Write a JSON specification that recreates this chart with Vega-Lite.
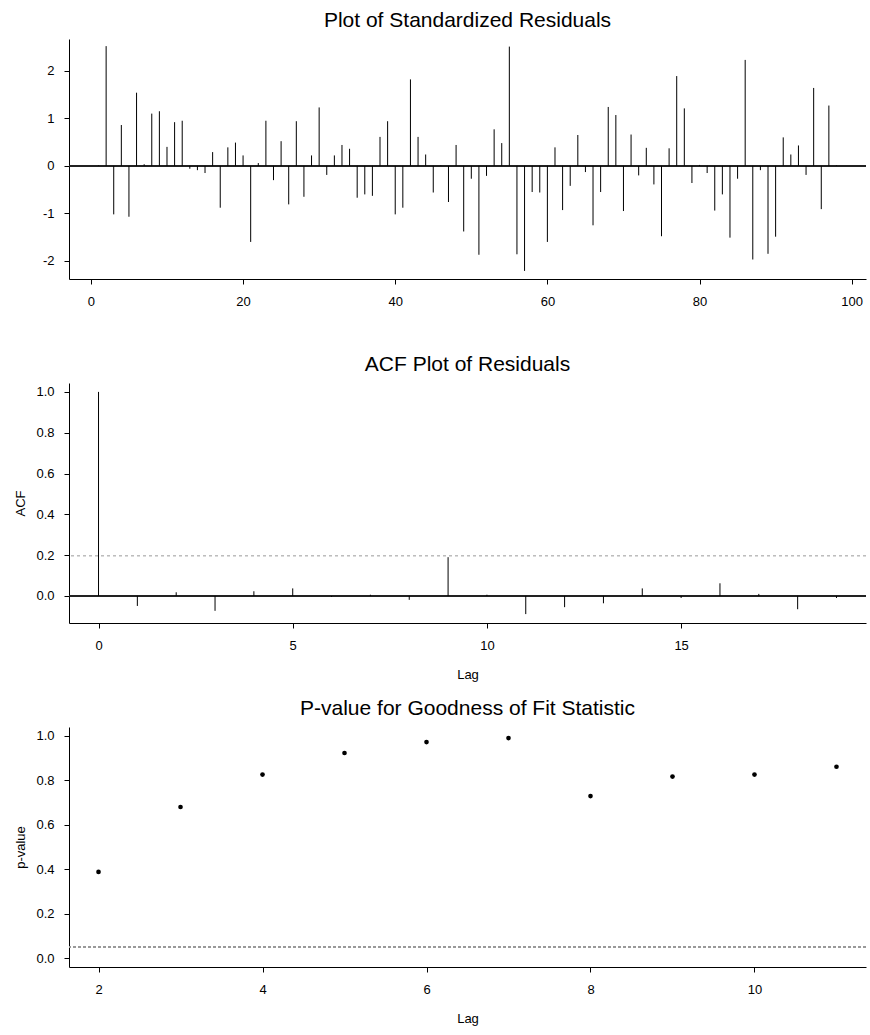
{
  "$schema": "https://vega.github.io/schema/vega-lite/v6.json",
  "background": "white",
  "padding": {"left": 14, "top": 10, "right": 2, "bottom": 2},
  "spacing": 104,
  "bounds": "flush",
  "config": {
    "view": {"stroke": null},
    "font": "Liberation Sans",
    "title": {"fontSize": 21, "fontWeight": "normal", "font": "Liberation Sans", "color": "black", "offset": 8, "anchor": "middle"},
    "axis": {"grid": false, "domainColor": "black", "tickColor": "black", "labelColor": "black", "titleColor": "black", "labelFont": "Liberation Sans", "titleFont": "Liberation Sans", "labelFontSize": 13, "titleFontSize": 13, "titleFontWeight": "normal", "tickSize": 5, "domainWidth": 1, "tickWidth": 1}
  },
  "datasets": {
    "resid": [
      {"t": 1, "r": 0.01}, {"t": 2, "r": 2.52}, {"t": 3, "r": -1.02}, {"t": 4, "r": 0.86}, {"t": 5, "r": -1.07},
      {"t": 6, "r": 1.54}, {"t": 7, "r": 0.035}, {"t": 8, "r": 1.10}, {"t": 9, "r": 1.15}, {"t": 10, "r": 0.40},
      {"t": 11, "r": 0.92}, {"t": 12, "r": 0.95}, {"t": 13, "r": -0.06}, {"t": 14, "r": -0.09}, {"t": 15, "r": -0.15},
      {"t": 16, "r": 0.29}, {"t": 17, "r": -0.88}, {"t": 18, "r": 0.39}, {"t": 19, "r": 0.49}, {"t": 20, "r": 0.22},
      {"t": 21, "r": -1.60}, {"t": 22, "r": 0.06}, {"t": 23, "r": 0.95}, {"t": 24, "r": -0.30}, {"t": 25, "r": 0.52},
      {"t": 26, "r": -0.81}, {"t": 27, "r": 0.94}, {"t": 28, "r": -0.65}, {"t": 29, "r": 0.22}, {"t": 30, "r": 1.23},
      {"t": 31, "r": -0.19}, {"t": 32, "r": 0.22}, {"t": 33, "r": 0.44}, {"t": 34, "r": 0.36}, {"t": 35, "r": -0.67},
      {"t": 36, "r": -0.60}, {"t": 37, "r": -0.63}, {"t": 38, "r": 0.61}, {"t": 39, "r": 0.94}, {"t": 40, "r": -1.02},
      {"t": 41, "r": -0.88}, {"t": 42, "r": 1.82}, {"t": 43, "r": 0.61}, {"t": 44, "r": 0.24}, {"t": 45, "r": -0.56},
      {"t": 46, "r": 0.01}, {"t": 47, "r": -0.76}, {"t": 48, "r": 0.44}, {"t": 49, "r": -1.38}, {"t": 50, "r": -0.27},
      {"t": 51, "r": -1.87}, {"t": 52, "r": -0.21}, {"t": 53, "r": 0.77}, {"t": 54, "r": 0.48}, {"t": 55, "r": 2.51},
      {"t": 56, "r": -1.86}, {"t": 57, "r": -2.21}, {"t": 58, "r": -0.55}, {"t": 59, "r": -0.56}, {"t": 60, "r": -1.60},
      {"t": 61, "r": 0.39}, {"t": 62, "r": -0.93}, {"t": 63, "r": -0.42}, {"t": 64, "r": 0.65}, {"t": 65, "r": -0.13},
      {"t": 66, "r": -1.25}, {"t": 67, "r": -0.55}, {"t": 68, "r": 1.24}, {"t": 69, "r": 1.07}, {"t": 70, "r": -0.95},
      {"t": 71, "r": 0.66}, {"t": 72, "r": -0.20}, {"t": 73, "r": 0.38}, {"t": 74, "r": -0.39}, {"t": 75, "r": -1.48},
      {"t": 76, "r": 0.37}, {"t": 77, "r": 1.89}, {"t": 78, "r": 1.21}, {"t": 79, "r": -0.36}, {"t": 80, "r": 0.02},
      {"t": 81, "r": -0.15}, {"t": 82, "r": -0.94}, {"t": 83, "r": -0.60}, {"t": 84, "r": -1.51}, {"t": 85, "r": -0.27},
      {"t": 86, "r": 2.23}, {"t": 87, "r": -1.97}, {"t": 88, "r": -0.09}, {"t": 89, "r": -1.85}, {"t": 90, "r": -1.49},
      {"t": 91, "r": 0.60}, {"t": 92, "r": 0.24}, {"t": 93, "r": 0.43}, {"t": 94, "r": -0.19}, {"t": 95, "r": 1.64},
      {"t": 96, "r": -0.91}, {"t": 97, "r": 1.27}, {"t": 98, "r": 0.01}
    ],
    "acf": [
      {"lag": 0, "acf": 1.0}, {"lag": 1, "acf": -0.049}, {"lag": 2, "acf": 0.018}, {"lag": 3, "acf": -0.073},
      {"lag": 4, "acf": 0.023}, {"lag": 5, "acf": 0.037}, {"lag": 6, "acf": -0.005}, {"lag": 7, "acf": 0.006},
      {"lag": 8, "acf": -0.019}, {"lag": 9, "acf": 0.19}, {"lag": 10, "acf": 0.006}, {"lag": 11, "acf": -0.089},
      {"lag": 12, "acf": -0.055}, {"lag": 13, "acf": -0.036}, {"lag": 14, "acf": 0.037}, {"lag": 15, "acf": -0.01},
      {"lag": 16, "acf": 0.062}, {"lag": 17, "acf": 0.01}, {"lag": 18, "acf": -0.065}, {"lag": 19, "acf": -0.01}
    ],
    "pval": [
      {"lag": 2, "p": 0.388}, {"lag": 3, "p": 0.680}, {"lag": 4, "p": 0.826}, {"lag": 5, "p": 0.923},
      {"lag": 6, "p": 0.972}, {"lag": 7, "p": 0.990}, {"lag": 8, "p": 0.729}, {"lag": 9, "p": 0.817},
      {"lag": 10, "p": 0.826}, {"lag": 11, "p": 0.861}
    ]
  },
  "vconcat": [
    {
      "width": 797, "height": 240,
      "title": "Plot of Standardized Residuals",
      "data": {"name": "resid"},
      "layer": [
        {
          "mark": {"type": "rule", "color": "#222222", "strokeWidth": 1},
          "encoding": {
            "y": {"datum": 0, "type": "quantitative", "scale": {"domain": [-2.38, 2.67], "nice": false, "zero": false},
                  "axis": {"values": [-2, -1, 0, 1, 2], "title": null, "labelPadding": 10, "labelExpr": "datum.value < 0 ? '-' + abs(datum.value) : '' + datum.value"}}
          }
        },
        {
          "mark": {"type": "rule", "color": "black", "strokeWidth": 1},
          "encoding": {
            "x": {"field": "t", "type": "quantitative", "scale": {"domain": [-2.88, 101.88], "nice": false, "zero": false},
                  "axis": {"values": [0, 20, 40, 60, 80, 100], "title": null, "labelPadding": 11}},
            "y": {"field": "r", "type": "quantitative", "scale": {"domain": [-2.38, 2.67], "nice": false, "zero": false},
                  "axis": {"values": [-2, -1, 0, 1, 2], "title": null, "labelPadding": 10, "labelExpr": "datum.value < 0 ? '-' + abs(datum.value) : '' + datum.value"}},
            "y2": {"datum": 0}
          }
        }
      ]
    },
    {
      "width": 797, "height": 240,
      "title": "ACF Plot of Residuals",
      "data": {"name": "acf"},
      "layer": [
        {
          "mark": {"type": "rule", "color": "#222222", "strokeWidth": 1},
          "encoding": {
            "y": {"datum": 0, "type": "quantitative", "scale": {"domain": [-0.1326, 1.0436], "nice": false, "zero": false},
                  "axis": {"values": [0, 0.2, 0.4, 0.6, 0.8, 1.0], "format": ".1f", "title": "ACF", "labelPadding": 10, "titlePadding": 8}}
          }
        },
        {
          "mark": {"type": "rule", "color": "#bdbdbd", "strokeWidth": 1, "strokeDash": [3, 3]},
          "encoding": {
            "y": {"datum": 0.198, "type": "quantitative"}
          }
        },
        {
          "mark": {"type": "rule", "color": "black", "strokeWidth": 1},
          "encoding": {
            "x": {"field": "lag", "type": "quantitative", "scale": {"domain": [-0.76, 19.76], "nice": false, "zero": false},
                  "axis": {"values": [0, 5, 10, 15], "title": "Lag", "labelPadding": 11, "titlePadding": 16}},
            "y": {"field": "acf", "type": "quantitative", "scale": {"domain": [-0.1326, 1.0436], "nice": false, "zero": false},
                  "axis": {"values": [0, 0.2, 0.4, 0.6, 0.8, 1.0], "format": ".1f", "title": "ACF", "labelPadding": 10, "titlePadding": 8}},
            "y2": {"datum": 0}
          }
        }
      ]
    },
    {
      "width": 797, "height": 240,
      "title": "P-value for Goodness of Fit Statistic",
      "data": {"name": "pval"},
      "layer": [
        {
          "mark": {"type": "rule", "color": "#999999", "strokeWidth": 1, "strokeDash": [3, 2]},
          "encoding": {
            "y": {"datum": 0.05, "type": "quantitative", "scale": {"domain": [-0.04, 1.04], "nice": false, "zero": false},
                  "axis": {"values": [0, 0.2, 0.4, 0.6, 0.8, 1.0], "format": ".1f", "title": "p-value", "labelPadding": 10, "titlePadding": 8}}
          }
        },
        {
          "mark": {"type": "point", "filled": true, "color": "black", "size": 22, "opacity": 1},
          "encoding": {
            "x": {"field": "lag", "type": "quantitative", "scale": {"domain": [1.64, 11.36], "nice": false, "zero": false},
                  "axis": {"values": [2, 4, 6, 8, 10], "title": "Lag", "labelPadding": 11, "titlePadding": 16}},
            "y": {"field": "p", "type": "quantitative", "scale": {"domain": [-0.04, 1.04], "nice": false, "zero": false},
                  "axis": {"values": [0, 0.2, 0.4, 0.6, 0.8, 1.0], "format": ".1f", "title": "p-value", "labelPadding": 10, "titlePadding": 8}}
          }
        }
      ]
    }
  ]
}
